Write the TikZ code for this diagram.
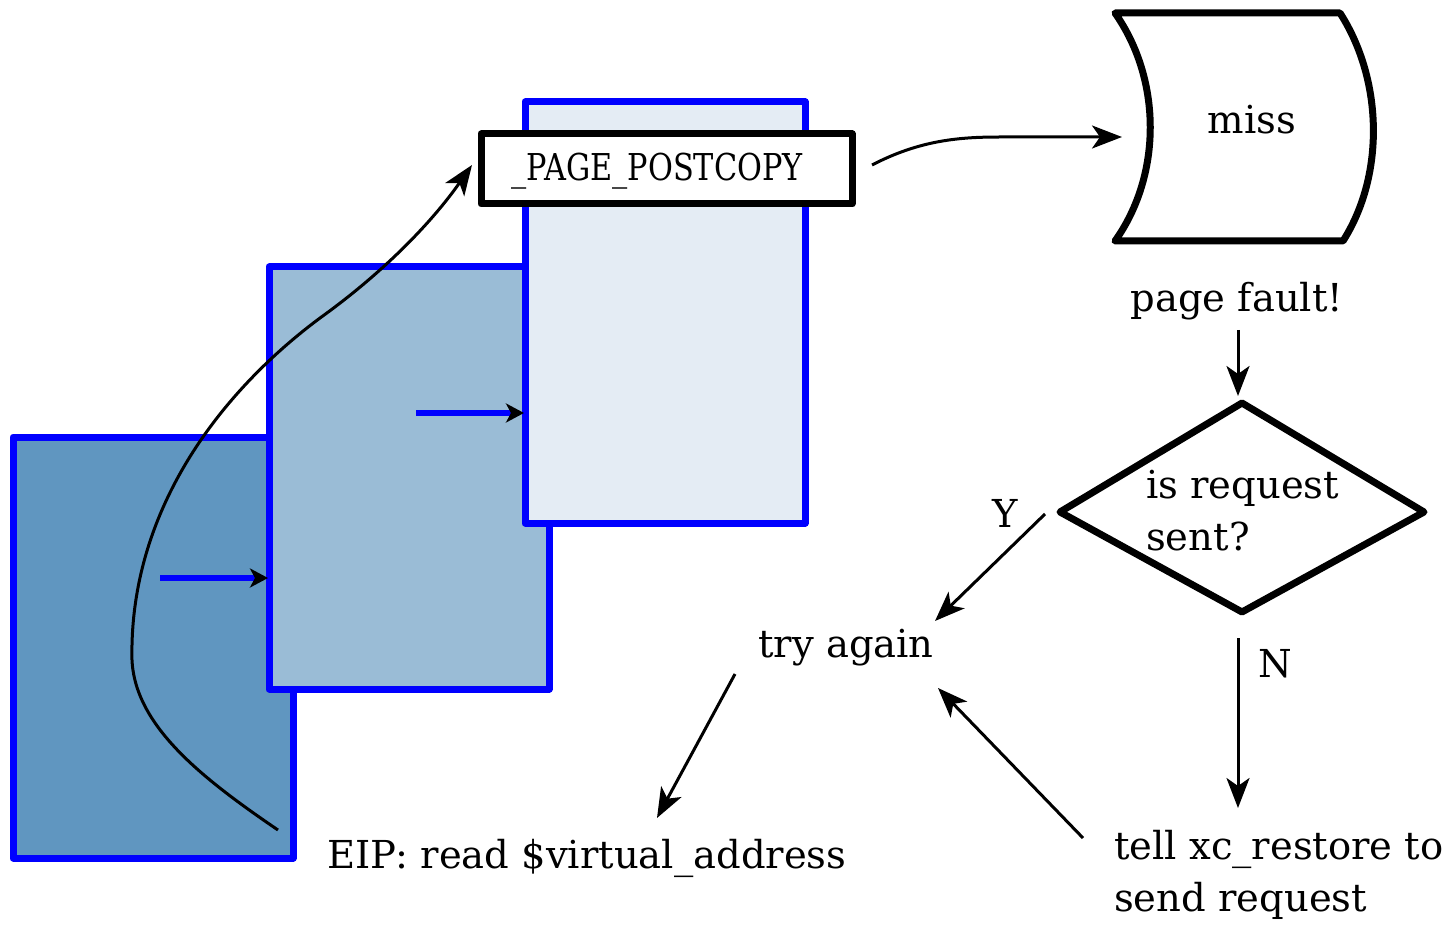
\documentclass[tikz,border=0pt]{standalone}
\usepackage{fontspec}
\setmainfont{DejaVu Serif}
\usetikzlibrary{arrows.meta}
\definecolor{pgdark}{HTML}{6096C0}
\definecolor{pgmid}{HTML}{9ABCD6}
\definecolor{pglight}{HTML}{E4ECF4}
\tikzset{
  page/.style={draw=blue, line width=7pt, line join=round},
  thinarrow/.style={draw=black, line width=3pt, -{Stealth[length=30pt,width=23pt,inset=8pt]}},
  bluearrow/.style={draw=blue, line width=6pt, -{Stealth[black,length=18pt,width=19pt,inset=5pt]}},
  thickshape/.style={draw=black, line width=7pt, line join=round},
  lbl/.style={font=\fontsize{38.5}{52}\selectfont, inner sep=0pt},
}
\begin{document}
\begin{tikzpicture}[x=1pt,y=-1pt]
\useasboundingbox (0,0) rectangle (1452,925);

% stacked pages
\draw[page, fill=pgdark]  (13,437) rectangle (293,858);
\draw[page, fill=pgmid]   (269,267) rectangle (549,689);
\draw[page, fill=pglight] (525,102) rectangle (805,523);

% page table entry flag
\node[thickshape, fill=white, minimum width=371pt, minimum height=70pt, inner sep=0pt]
  (flag) at (666.5,169) {};
\node[lbl, anchor=base] (flagtxt) at (657,181)
  {\scalebox{0.82}[1]{\fontsize{37}{40}\selectfont \_PAGE\_POSTCOPY}};

% links between the pages
\coordinate (l1a) at (160,578);
\coordinate (l1b) at (268,578);
\coordinate (l2a) at (416,413);
\coordinate (l2b) at (524,413);
\draw[bluearrow] (l1a) -- (l1b);
\draw[bluearrow] (l2a) -- (l2b);

% access path through the pages
\coordinate (acc0) at (278,830);
\coordinate (acc1) at (132,660);
\coordinate (acc2) at (320,318);
\coordinate (acc3) at (472,165);
\draw[thinarrow] (acc0) .. controls (200,777) and (135,725) .. (acc1)
  .. controls (129,520) and (210,400) .. (acc2)
  .. controls (380,275) and (430,225) .. (acc3);

% "miss" store shape
\coordinate (mtl) at (1115,13);
\coordinate (mtr) at (1340,13);
\coordinate (mbr) at (1343,241);
\coordinate (mbl) at (1115,241);
\draw[thickshape] (mtl) -- (mtr) .. controls (1383,80) and (1385,175) .. (mbr)
  -- (mbl) .. controls (1162,175) and (1162,80) .. (mtl) -- cycle;
\node[lbl, anchor=base] (miss) at (1252,134) {miss};

\coordinate (f0) at (872,165);
\coordinate (f1) at (1000,137);
\coordinate (f2) at (1122,137);
\draw[thinarrow] (f0) .. controls (920,140) and (960,137) .. (f1) -- (f2);

% page fault flow
\node[lbl, anchor=base] (pf) at (1237,312) {page fault!};
\coordinate (pf0) at (1238,330);
\coordinate (pf1) at (1238,396);
\draw[thinarrow] (pf0) -- (pf1);

\coordinate (dt) at (1242,403);
\coordinate (dr) at (1424,512);
\coordinate (db) at (1242,612);
\coordinate (dl) at (1060,512);
\draw[thickshape] (dt) -- (dr) -- (db) -- (dl) -- cycle;
\node[lbl, anchor=west, align=left] (req) at (1146,511) {is request\\sent?};

\node[lbl, anchor=base] (yes) at (1005,527) {Y};
\node[lbl, anchor=base] (no) at (1275,677) {N};

\node[lbl, anchor=base] (retry) at (846,657) {try again};
\node[lbl, anchor=base] (eip) at (587,868) {EIP: read \$virtual\_address};
\node[lbl, anchor=west, align=left] (tell) at (1114,875) {tell xc\_restore to\\send request};

\coordinate (y0) at (1045,514);
\coordinate (y1) at (935,621);
\draw[thinarrow] (y0) -- (y1);
\coordinate (n0) at (1238,638);
\coordinate (n1) at (1238,808);
\draw[thinarrow] (n0) -- (n1);
\coordinate (t0) at (735,674);
\coordinate (t1) at (657,818);
\draw[thinarrow] (t0) -- (t1);
\coordinate (r0) at (1083,838);
\coordinate (r1) at (938,688);
\draw[thinarrow] (r0) -- (r1);
\end{tikzpicture}
\end{document}
